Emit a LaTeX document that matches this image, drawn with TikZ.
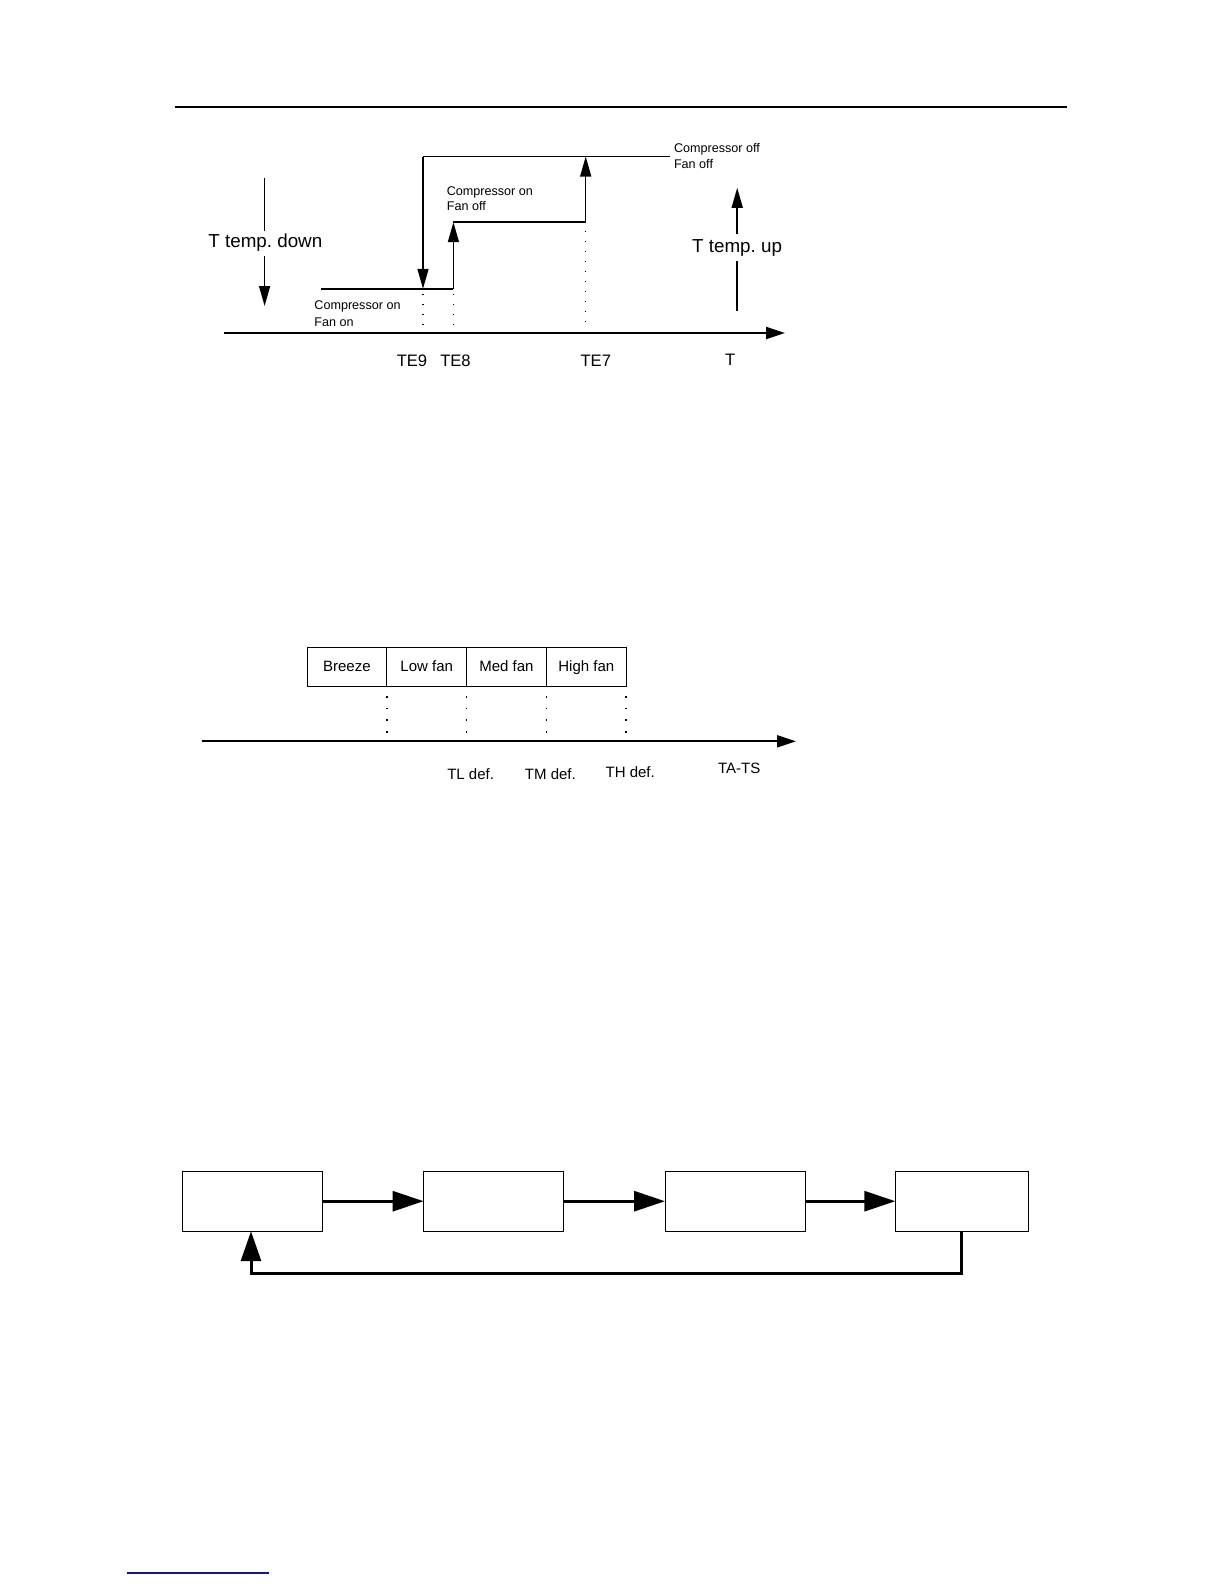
\documentclass[tikz,border=0pt]{standalone}
\usepackage{fontspec}
\setmainfont{Liberation Sans}
\usetikzlibrary{arrows.meta}
\frenchspacing
\begin{document}
\begin{tikzpicture}[x=0.5pt,y=-0.5pt,
  smalltxt/.style={font=\fontsize{6.3}{7.5}\selectfont,inner sep=0,anchor=west},
  bigtxt/.style={font=\fontsize{9.4}{11}\selectfont,inner sep=0,anchor=west},
  telbl/.style={font=\fontsize{8.3}{10}\selectfont,inner sep=0},
  fanlbl/.style={font=\fontsize{7.5}{9}\selectfont,inner sep=0},
  stepline/.style={line width=0.75pt},
  steparrow/.style={line width=0.75pt,-{Triangle[length=10pt,width=5.5pt]}},
  axisarrow/.style={line width=1pt,-{Triangle[length=9.5pt,width=6pt]}},
  dotline/.style={line width=0.7pt,dash pattern=on 0.7pt off 4.3pt},
  fanbox/.style={draw,line width=0.5pt,minimum width=39.9pt,minimum height=19.7pt,inner sep=0,outer sep=0,text height=5.6pt,text depth=1.4pt,font=\fontsize{7.5}{9}\selectfont},
  flowbox/.style={draw,line width=0.5pt,inner sep=0,outer sep=0},
  flowarrow/.style={line width=1.5pt,-{Triangle[length=15.5pt,width=10pt]}}
]
\useasboundingbox (0,0) rectangle (1224,1584);
% header rule
\coordinate (hl) at (175,107);
\coordinate (hr) at (1067,107);
\draw[line width=0.75pt] (hl) -- (hr);
% footer link underline
\coordinate (fl) at (127,1573);
\coordinate (fr) at (269,1573);
\draw[line width=0.7pt,color={rgb,255:red,20;green,20;blue,140}] (fl) -- (fr);

% ---------- Diagram 1 ----------
\coordinate (ax1s) at (224,333);
\coordinate (ax1e) at (785,333);
\draw[axisarrow] (ax1s) -- (ax1e);

\coordinate (topL) at (423,156.5);
\coordinate (topR) at (670,156.5);
\coordinate (botL) at (321,288.8);
\coordinate (te9b) at (423,288.8);
\coordinate (te8b) at (453.4,288.8);
\coordinate (te8t) at (453.4,222.2);
\coordinate (te7b) at (585.7,222.2);
\coordinate (te7t) at (585.7,156.5);

\draw[stepline] (topR) -- (topL);
\draw[steparrow] (topL) -- (te9b);
\draw[stepline] (botL) -- (te8b);
\draw[steparrow] (te8b) -- (te8t);
\draw[stepline] (te8t) -- (te7b);
\draw[steparrow] (te7b) -- (te7t);

% dotted guides
\coordinate (d9a) at (423,294);
\coordinate (d9b) at (423,328);
\coordinate (d8a) at (453.4,294);
\coordinate (d8b) at (453.4,328);
\coordinate (d7a) at (585.7,231);
\coordinate (d7b) at (585.7,328);
\draw[dotline] (d9a) -- (d9b);
\draw[dotline] (d8a) -- (d8b);
\draw[dotline] (d7a) -- (d7b);

\node[smalltxt] (coff1) at (673.6,149) {Compressor off};
\node[smalltxt] (coff2) at (673.6,164) {Fan off};
\node[smalltxt] (con1) at (446.4,192.5) {Compressor on};
\node[smalltxt] (con2) at (446.4,206.5) {Fan off};
\node[smalltxt] (cn1) at (314,306.5) {Compressor on};
\node[smalltxt] (cn2) at (314,322) {Fan on};

\node[bigtxt] (tdown) at (208,242.5) {T temp. down};
\coordinate (tda) at (264.6,177.7);
\coordinate (tdb) at (264.6,231);
\coordinate (tdc) at (264.6,255.5);
\coordinate (tdd) at (264.6,306);
\draw[stepline] (tda) -- (tdb);
\draw[steparrow] (tdc) -- (tdd);

\node[bigtxt] (tup) at (691.8,247.5) {T temp. up};
\coordinate (tua) at (737.2,311);
\coordinate (tub) at (737.2,260.5);
\coordinate (tuc) at (737.2,234.3);
\coordinate (tud) at (737.2,187.8);
\draw[stepline] (tua) -- (tub);
\draw[steparrow] (tuc) -- (tud);

\node[telbl] (te9) at (412,360.5) {TE9};
\node[telbl] (te8) at (455.5,360.5) {TE8};
\node[telbl] (te7) at (595.8,360.5) {TE7};
\node[telbl] (tt) at (730.2,359.5) {T};

% ---------- Diagram 2 ----------
\node[fanbox,anchor=north west] (breeze) at (307,647.3) {Breeze};
\node[fanbox,anchor=north west] (lowfan) at (breeze.north east) {Low fan};
\node[fanbox,anchor=north west] (medfan) at (lowfan.north east) {Med fan};
\node[fanbox,anchor=north west] (highfan) at (medfan.north east) {High fan};

\coordinate (ax2s) at (202,741.3);
\coordinate (ax2e) at (796,741.3);
\draw[axisarrow] (ax2s) -- (ax2e);

\foreach \xx in {386.8,466.6,546.4,626.1}{
  \draw[line width=0.8pt,dash pattern=on 0.8pt off 5.05pt] (\xx,696) -- (\xx,733);
}

\node[fanlbl] (tl) at (470.6,774.6) {TL def.};
\node[fanlbl] (tm) at (550.4,774.6) {TM def.};
\node[fanlbl] (th) at (630.2,772.6) {TH def.};
\node[fanlbl] (tats) at (739.2,768.5) {TA-TS};

% ---------- Diagram 3 ----------
\node[flowbox,anchor=north west,minimum width=70pt,minimum height=30pt] (b1) at (182.5,1171.2) {};
\node[flowbox,anchor=north west,minimum width=70pt,minimum height=30pt] (b2) at (423.6,1171.2) {};
\node[flowbox,anchor=north west,minimum width=70pt,minimum height=30pt] (b3) at (665,1171.2) {};
\node[flowbox,anchor=north west,minimum width=66.4pt,minimum height=30pt] (b4) at (895.3,1171.2) {};

\draw[flowarrow] (b1.east) -- (b2.west);
\draw[flowarrow] (b2.east) -- (b3.west);
\draw[flowarrow] (b3.east) -- (b4.west);

\coordinate (r1) at (961,1231.2);
\coordinate (r2) at (961,1273);
\coordinate (r3) at (251,1273);
\coordinate (r4) at (251,1231.2);
\draw[line width=1.5pt,-{Triangle[length=15pt,width=10pt]}] (r1) -- (r2) -- (r3) -- (r4);
\end{tikzpicture}
\end{document}
